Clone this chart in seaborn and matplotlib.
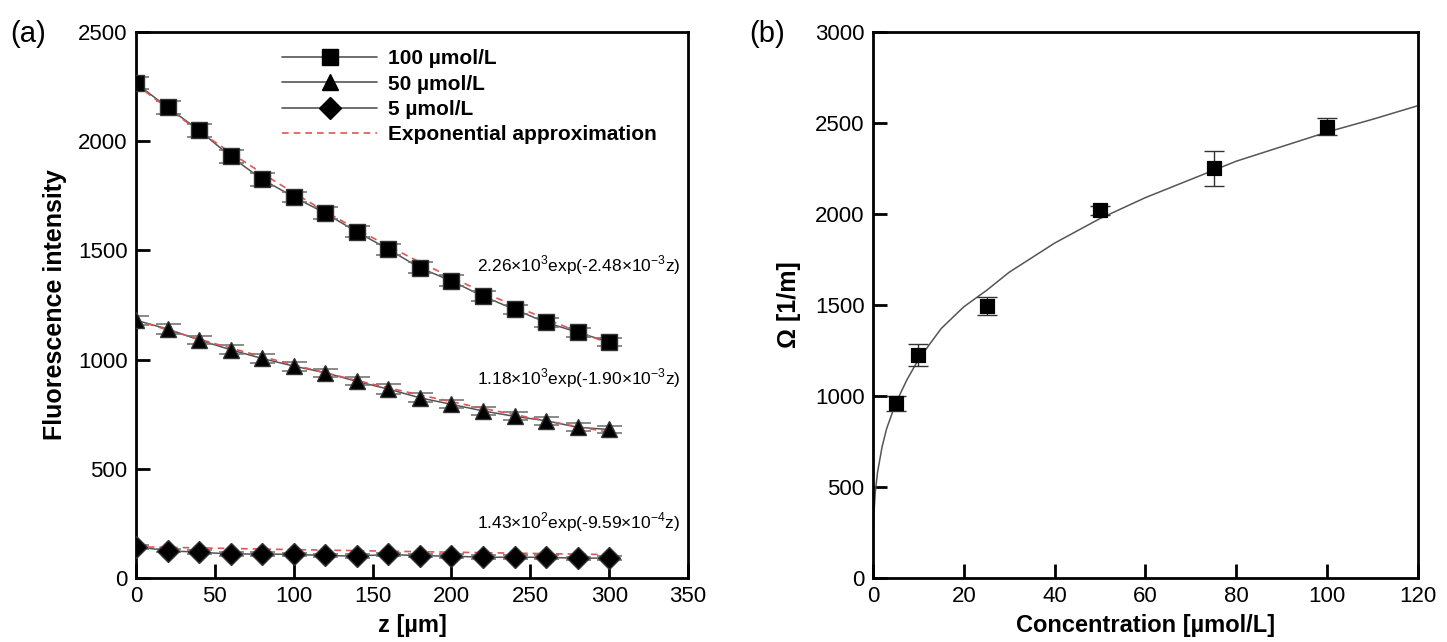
import numpy as np
import pandas as pd
import seaborn as sns
import matplotlib.pyplot as plt
from matplotlib.lines import Line2D

# ---- data (a) ----
z = [0, 20, 40, 60, 80, 100, 120, 140, 160, 180, 200, 220, 240, 260, 280, 300]
i100 = [2265, 2155, 2050, 1930, 1825, 1745, 1670, 1585, 1505, 1420, 1360, 1290, 1230, 1170, 1125, 1080]
i50 = [1180, 1140, 1090, 1045, 1005, 970, 940, 900, 865, 825, 795, 765, 740, 720, 690, 680]
i5 = [143, 125, 118, 110, 110, 108, 103, 100, 108, 102, 100, 95, 95, 95, 90, 92]
e100 = [28, 30, 30, 30, 30, 22, 28, 25, 25, 25, 25, 22, 22, 20, 20, 20]
e50 = [20, 22, 20, 20, 20, 20, 18, 18, 22, 20, 18, 18, 18, 18, 18, 18]
e5 = [10, 8, 8, 8, 8, 8, 8, 8, 8, 8, 8, 8, 8, 8, 8, 8]
fit_a = [2260, 1180, 143]
fit_k = [-2.48e-3, -1.90e-3, -9.59e-4]
labels = ["100 µmol/L", "50 µmol/L", "5 µmol/L"]
fit_text = ["2.26×10$^{3}$exp(-2.48×10$^{-3}$z)",
            "1.18×10$^{3}$exp(-1.90×10$^{-3}$z)",
            "1.43×10$^{2}$exp(-9.59×10$^{-4}$z)"]
fit_text_y = [1433, 916, 256]

# ---- data (b) ----
conc = [5, 10, 25, 50, 75, 100]
omega = [960, 1225, 1495, 2020, 2250, 2480]
omega_err = [40, 60, 50, 25, 95, 45]
curve_x = [0, 0.2, 0.5, 1, 2, 3, 5, 7.5, 10, 15, 20, 25, 30, 40, 50, 60, 70, 80, 90, 100, 110, 120]
curve_y = [200, 350, 470, 580, 720, 820, 960, 1090, 1200, 1370, 1490, 1580, 1680, 1840, 1975, 2090, 2190, 2290, 2370, 2450, 2520, 2595]

sns.set_style("ticks")
plt.rcParams['font.family'] = ['Liberation Sans', 'DejaVu Sans']
plt.rcParams['mathtext.fontset'] = 'custom'
plt.rcParams['mathtext.rm'] = 'Liberation Sans'
plt.rcParams['text.color'] = 'black'
plt.rcParams['axes.labelcolor'] = 'black'
plt.rcParams['xtick.color'] = 'black'
plt.rcParams['ytick.color'] = 'black'

fig = plt.figure(figsize=(14.47, 6.42), dpi=100)
ax1 = fig.add_axes([0.094, 0.0997, 0.3815, 0.8505])
ax2 = fig.add_axes([0.6033, 0.0997, 0.3766, 0.8505])

markers = ["s", "^", "D"]
msizes = [11, 11, 11]
series = [i100, i50, i5]
errs = [e100, e50, e5]
zz = np.linspace(0, 300, 200)
for vals, err, m, ms, a, k in zip(series, errs, markers, msizes, fit_a, fit_k):
    df = pd.DataFrame({"z": z, "I": vals})
    sns.lineplot(data=df, x="z", y="I", ax=ax1, color="#555555", lw=1.1)
    ax1.errorbar(z, vals, yerr=err, fmt="none", ecolor="#777777", elinewidth=1.2, capsize=9, capthick=1.2)
    sns.lineplot(x=zz, y=a * np.exp(k * zz), ax=ax1, color="#e05555", lw=1.2, linestyle=(0, (4, 3)))
    ax1.plot(z, vals, linestyle="none", marker=m, ms=ms, color="black", mec="#333333", zorder=5)

ax1.set_xlim(0, 350)
ax1.set_ylim(0, 2500)
ax1.set_xticks(range(0, 351, 50))
ax1.set_yticks(range(0, 2501, 500))
ax1.set_xlabel("z [µm]", fontsize=17, fontweight="bold", labelpad=5)
ax1.set_ylabel("Fluorescence intensity", fontsize=18, fontweight="bold", labelpad=8)
for txt, ty in zip(fit_text, fit_text_y):
    ax1.text(345, ty, txt, fontsize=12.5, ha="right", va="center")

handles = [Line2D([], [], color="#555555", lw=1.2, marker=m, ms=ms, mfc="black", mec="black")
           for m, ms in zip(markers, msizes)]
handles.append(Line2D([], [], color="#e05555", lw=1.2, linestyle=(0, (4, 3))))
leg = ax1.legend(handles, labels + ["Exponential approximation"], loc="upper left",
                 bbox_to_anchor=(0.2645, 0.968), frameon=False, handlelength=4.57,
                 borderpad=0, borderaxespad=0,
                 prop={"weight": "bold", "size": 15}, labelspacing=0.3, handletextpad=0.53)

# panel (b)
sns.lineplot(x=curve_x, y=curve_y, ax=ax2, color="#555555", lw=1.1)
ax2.errorbar(conc, omega, yerr=omega_err, fmt="none", ecolor="#333333", elinewidth=1, capsize=7, capthick=1)
sns.scatterplot(x=conc, y=omega, ax=ax2, marker="s", s=115, color="black", edgecolor="black", zorder=5)
ax2.set_xlim(0, 120)
ax2.set_ylim(0, 3000)
ax2.set_xticks(range(0, 121, 20))
ax2.set_yticks(range(0, 3001, 500))
ax2.set_xlabel("Concentration [µmol/L]", fontsize=17, fontweight="bold", labelpad=5)
ax2.set_ylabel("Ω [1/m]", fontsize=18, fontweight="bold", labelpad=10)

for ax in (ax1, ax2):
    for s in ax.spines.values():
        s.set_linewidth(2)
        s.set_color("black")
    ax.tick_params(direction="in", length=10, width=2, labelsize=16, top=False, right=False, pad=6)

fig.text(0.007, 0.935, "(a)", fontsize=21)
fig.text(0.518, 0.935, "(b)", fontsize=21)

fig.savefig("out.png", dpi=100)
